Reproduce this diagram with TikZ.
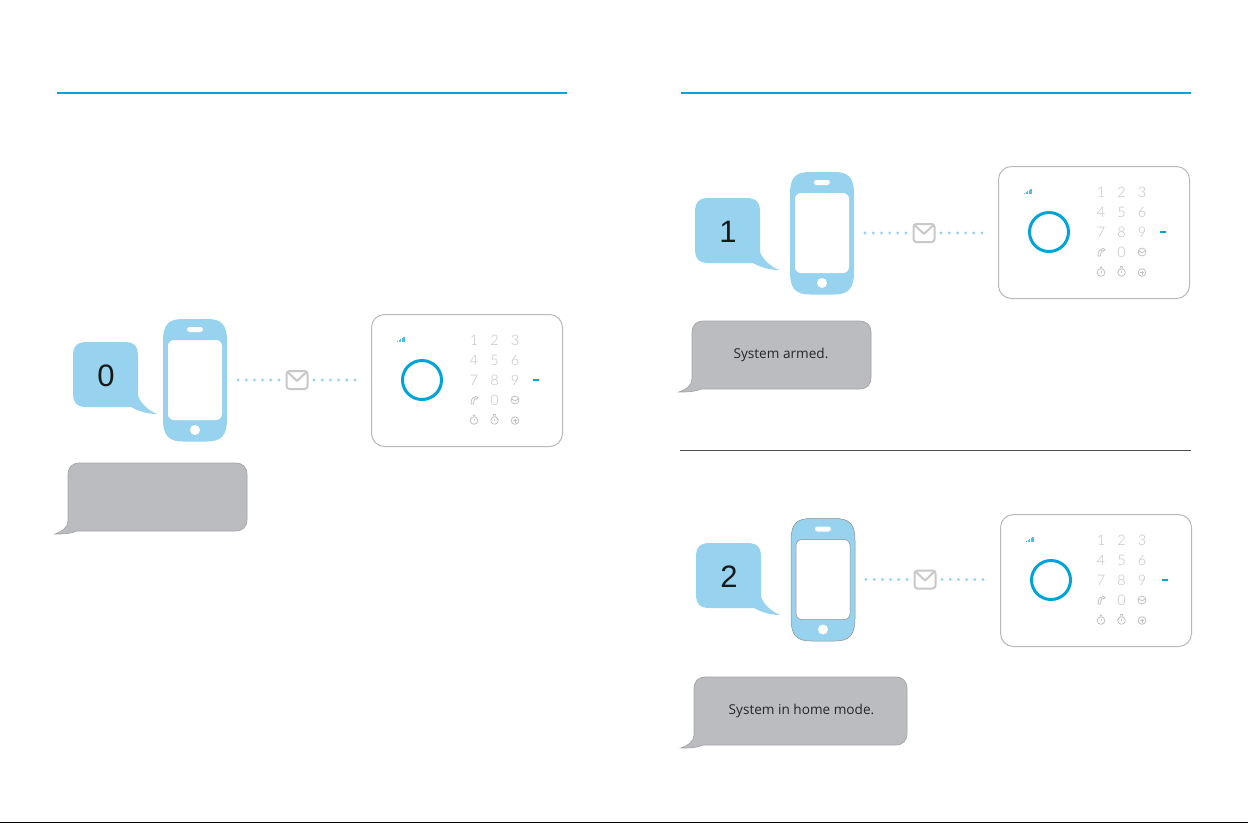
\documentclass[tikz,border=0pt]{standalone}
\usepackage{fontspec}
\setmainfont{Open Sans}
\newfontfamily\digitfont{Liberation Sans}
\newfontfamily\keyfont{Lato Light}
\definecolor{rulecyan}{HTML}{00A3DA}
\definecolor{phoneblue}{HTML}{97D2EE}
\definecolor{replygrey}{HTML}{BBBCC0}
\definecolor{replyrim}{HTML}{A4A4A8}
\definecolor{mailgrey}{HTML}{C8C8CA}
\definecolor{keygrey}{HTML}{C0C0C0}
\tikzset{
  toprule/.style={draw=rulecyan, line width=1.4pt},
  midrule/.style={draw=black!70, line width=0.8pt},
  phonescreen/.style={fill=white, rounded corners=6pt, minimum width=54pt, minimum height=80pt, inner sep=0pt},
  phonebutton/.style={fill=white, circle, minimum size=10pt, inner sep=0pt},
  phonespeaker/.style={fill=white, rounded corners=2.5pt, minimum width=16pt, minimum height=5pt, inner sep=0pt},
  mailbox/.style={draw=mailgrey, line width=2pt, rounded corners=3pt, minimum width=21pt, minimum height=18pt, inner sep=0pt},
  smsdots/.style={draw=phoneblue, line width=3.2pt, line cap=round, dash pattern=on 0pt off 8.2pt},
  keylabel/.style={text=keygrey, font=\keyfont\fontsize{14.5}{14.5}\selectfont, inner sep=0pt},
  keyicon/.style={draw=keygrey, line width=0.8pt},
  replytext/.style={text=black!85, font=\fontsize{13.6}{16}\selectfont, inner sep=0pt},
  msgdigit/.style={text=black!90, font=\digitfont\fontsize{31}{31}\selectfont, inner sep=0pt},
  framebox/.style={draw=black!28, line width=1pt, rounded corners=13pt, minimum width=191pt, minimum height=132pt, inner sep=0pt, anchor=north west}
}
% phone, blue bubble, mail icon and dots
\newcommand{\smsrow}[7]{
  \fill [phoneblue] (#4, #5+14) .. controls (#4, #5+4) and (#4+4, #5) .. (#4+14, #5) -- (#4+51, #5)
    .. controls (#4+61, #5) and (#4+65, #5+4) .. (#4+65, #5+14) -- (#4+65, #5+53)
    .. controls (#4+66, #5+60) and (#4+76, #5+69) .. (#4+84, #5+72)
    .. controls (#4+74, #5+72) and (#4+65, #5+69) .. (#4+58, #5+65) -- (#4+14, #5+65)
    .. controls (#4+4, #5+65) and (#4, #5+61) .. (#4, #5+51) -- cycle;
  \node (#1digit) [msgdigit] at (#4+33, #5+34) {#6};
  \begin{scope}[shift={(#2, #3)}]
    \filldraw [fill=phoneblue, #7] (0, 22) .. controls (0, 5) and (6, 0) .. (20, 0) -- (44, 0)
      .. controls (58, 0) and (64, 5) .. (64, 22) -- (64, 100)
      .. controls (64, 117) and (58, 122.5) .. (44, 122.5) -- (20, 122.5)
      .. controls (6, 122.5) and (0, 117) .. (0, 100) -- cycle;
    \node (#1screen) [phonescreen, #7] at (32, 61) {};
    \node (#1speaker) [phonespeaker] at (32, 10.5) {};
    \node (#1button) [phonebutton] at (32, 111) {};
    \coordinate (#1dotl) at (75, 61);
    \coordinate (#1dotr) at (192, 61);
    \node (#1mail) [mailbox] at (134, 61) {};
    \draw [smsdots] (#1dotl) -- (#1mail);
    \draw [smsdots] (#1dotr) -- (#1mail);
    \draw [mailgrey, line width=2pt, line join=round] ([xshift=1.5pt, yshift=-1.5pt]#1mail.north west) -- ([yshift=-1pt]#1mail.center) -- ([xshift=-1.5pt, yshift=-1.5pt]#1mail.north east);
  \end{scope}
}
% alarm panel: frame, ring, signal bars, keys
\newcommand{\alarmpanel}[4]{
  \begin{scope}[shift={(#2, #3)}]
    \node (#1frame) [framebox] at (0, 0) {};
    \node (#1ring) [draw=rulecyan, line width=3pt, circle, minimum size=39pt, inner sep=0pt] at (51, 66) {};
    \foreach \bar/\hgt in {0/1.2, 1.6/2, 3.2/3, 4.8/4.2, 6.4/5.4} {
      \fill [rulecyan!70] (26+\bar, 28) rectangle +(1.1, -\hgt);
    }
    \fill [rulecyan] (162, 65) rectangle +(5.5, 2);
    \foreach \key/\cx/\cy in {1/0/26, 2/20.5/26, 3/41/26, 4/0/46, 5/20.5/46, 6/41/46, 7/0/66, 8/20.5/66, 9/41/66, 0/20.5/86} {
      \node (#1key\key) [keylabel] at (#4+103+\cx, \cy) {\key};
    }
    % handset
    \draw [keyicon] (#4+100, 90) .. controls (#4+100, 85) and (#4+102, 82.5) .. (#4+105, 82.5) -- (#4+107, 83.5) -- (#4+105.5, 85) -- (#4+104, 84.5) .. controls (#4+103, 86) and (#4+102.5, 88) .. (#4+102.5, 90) -- cycle;
    % mail key
    \draw [keyicon] (#4+144, 86) circle (4);
    \draw [keyicon] (#4+140.3, 84.5) -- (#4+144, 87) -- (#4+147.7, 84.5);
    % round keys
    \foreach \cx in {0, 20.5, 41} {
      \draw [keyicon] (#4+103+\cx, 106.5) circle (3.8);
    }
    \draw [keyicon] (#4+103, 104.5) -- (#4+103, 107);
    \draw [keyicon] (#4+102, 102) -- (#4+103, 100.8) -- (#4+104, 102);
    \draw [keyicon] (#4+123.5, 104.5) -- (#4+123.5, 107);
    \draw [keyicon] (#4+122, 102.5) -- (#4+122.5, 100.5) -- (#4+124.5, 100.5) -- (#4+125, 102.5);
    \draw [keyicon] (#4+142, 106.5) -- (#4+146, 106.5);
    \draw [keyicon] (#4+144, 104.5) -- (#4+144, 108.5);
  \end{scope}
}
% grey reply bubble
\newcommand{\replybox}[3]{
  \filldraw [fill=replygrey, draw=replyrim, line width=0.7pt] (#1, #2+12) .. controls (#1, #2+4) and (#1+4, #2) .. (#1+12, #2) -- (#1+#3-12, #2)
    .. controls (#1+#3-4, #2) and (#1+#3, #2+4) .. (#1+#3, #2+12) -- (#1+#3, #2+56)
    .. controls (#1+#3, #2+64) and (#1+#3-4, #2+68) .. (#1+#3-12, #2+68) -- (#1+9, #2+68)
    .. controls (#1+2, #2+71) and (#1-7, #2+71) .. (#1-13, #2+71)
    .. controls (#1-7, #2+69) and (#1, #2+65) .. (#1, #2+58) -- cycle;
}
\begin{document}
\begin{tikzpicture}[x=1pt, y=-1pt]
  \useasboundingbox (0, 0) rectangle (1248, 823);

  \draw [toprule] (57, 93) -- (567, 93);
  \draw [toprule] (681, 93) -- (1191, 93);
  \draw [midrule] (680, 450) -- (1191, 450);
  \fill [black] (0, 822) rectangle (1248, 823);

  \smsrow{off}{163}{319}{73}{342}{0}{draw=none}
  \alarmpanel{offp}{371}{314}{0}
  \replybox{68}{463}{179}

  \smsrow{arm}{790}{172}{695}{198}{1}{draw=none}
  \alarmpanel{armp}{998}{166}{0}
  \replybox{692}{321}{179}
  \node (armtext) [replytext] at (781, 355) {System armed.};

  \smsrow{home}{791}{518.5}{696}{543}{2}{draw=black!45, line width=0.5pt}
  \alarmpanel{homep}{1000}{514}{-2}
  \replybox{694}{677}{213}
  \node (hometext) [replytext] at (801.5, 711) {System in home mode.};
\end{tikzpicture}
\end{document}
